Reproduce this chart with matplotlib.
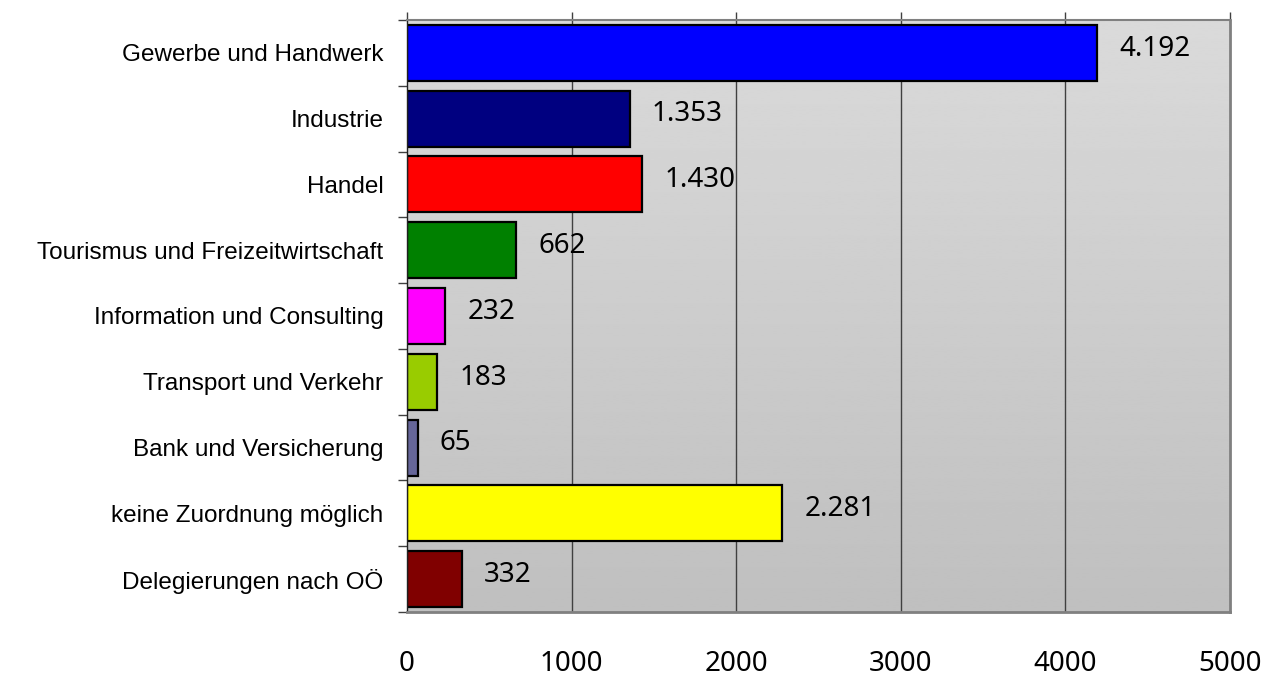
import matplotlib.pyplot as plt
import numpy as np

categories = [
    "Gewerbe und Handwerk",
    "Industrie",
    "Handel",
    "Tourismus und Freizeitwirtschaft",
    "Information und Consulting",
    "Transport und Verkehr",
    "Bank und Versicherung",
    "keine Zuordnung möglich",
    "Delegierungen nach OÖ",
]
values = [4192, 1353, 1430, 662, 232, 183, 65, 2281, 332]
bar_colors = ["#0000FF", "#000080", "#FF0000", "#008000", "#FF00FF",
              "#99CC00", "#666699", "#FFFF00", "#800000"]
xticks = [0, 1000, 2000, 3000, 4000, 5000]


def de_format(v):
    # German thousands separator
    return f"{v:,}".replace(",", ".")


fig = plt.figure(figsize=(12.67, 6.77), dpi=100)
ax = fig.add_axes([0.3212, 0.0960, 0.6496, 0.8745])

n = len(categories)
y = np.arange(n)

# gradient background (light gray top -> darker gray bottom)
grad = np.linspace(0.855, 0.75, 256).reshape(-1, 1)
ax.imshow(grad, cmap="gray", vmin=0, vmax=1, aspect="auto",
          extent=[0, 5000, n - 0.5, -0.5], zorder=0)

ax.set_xlim(0, 5000)
ax.set_ylim(n - 0.5, -0.5)

for xv in xticks[1:-1]:
    ax.axvline(xv, color="#404040", lw=1, zorder=1)

ax.barh(y, values, height=0.85, color=bar_colors, edgecolor="black",
        linewidth=1.6, zorder=2)

for yi, v in zip(y, values):
    ax.annotate(de_format(v), xy=(v, yi), xytext=(16, 3),
                textcoords="offset points", ha="left", va="center",
                fontsize=20, family="Noto Sans", color="#000000", zorder=3)

ax.set_yticks(y)
ax.set_yticklabels(categories, family="Liberation Sans", fontsize=17.5)
ax.set_yticks(np.arange(-0.5, n, 1), minor=True)
ax.tick_params(axis="y", which="major", length=0, pad=17)
ax.tick_params(axis="y", which="minor", length=6.5, width=1, color="#404040")

ax.set_xticks(xticks)
ax.set_xticklabels([str(t) for t in xticks], family="Noto Sans", fontsize=20)
ax.tick_params(axis="x", which="major", top=True, bottom=False,
               labeltop=False, labelbottom=True, length=5.5, width=1,
               color="#404040", pad=22)

ax.spines["left"].set_color("#202020")
ax.spines["left"].set_linewidth(1)
ax.spines["top"].set_color("#808080")
ax.spines["top"].set_linewidth(1.5)
for s in ("right", "bottom"):
    ax.spines[s].set_color("#808080")
    ax.spines[s].set_linewidth(2)

fig.savefig("out.png", dpi=100)
